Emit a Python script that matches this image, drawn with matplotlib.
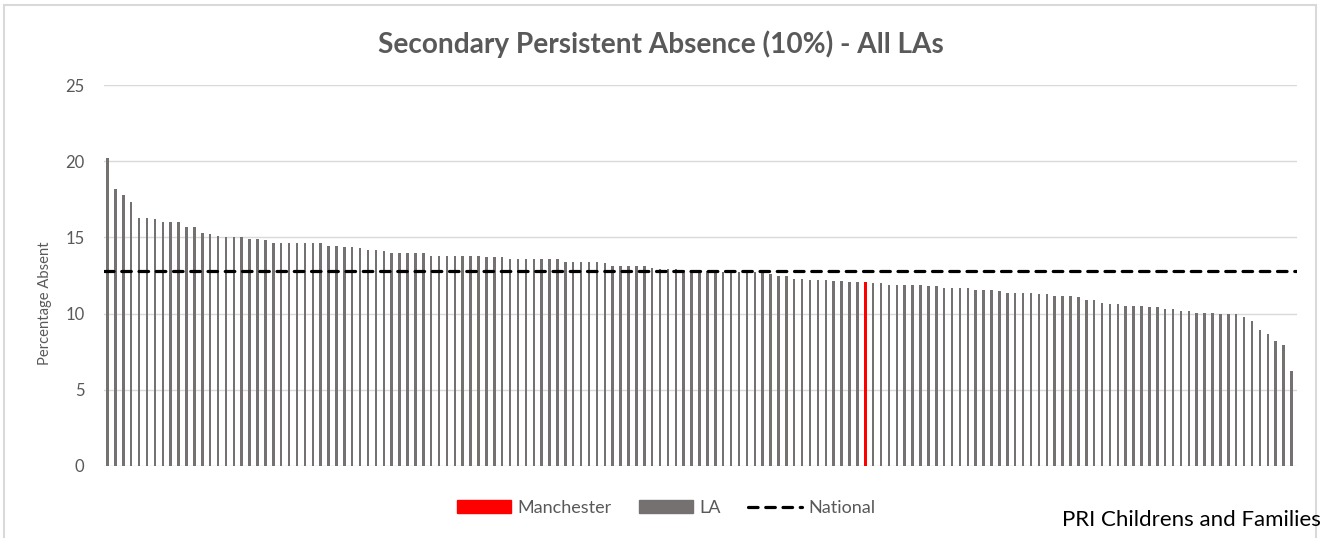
import numpy as np
from matplotlib import pyplot as plt
from matplotlib.patches import Patch, Rectangle
from matplotlib.lines import Line2D

# LA values, sorted high to low
la_values = [
    20.2, 18.2, 17.8, 17.3, 16.3, 16.3, 16.2, 16.0, 16.0, 16.0,
    15.7, 15.7, 15.3, 15.2, 15.1, 15.0, 15.0, 15.0, 14.9, 14.9,
    14.8, 14.6, 14.6, 14.6, 14.6,
    14.6, 14.6, 14.6, 14.45, 14.45, 14.4, 14.4, 14.3, 14.2, 14.2,
    14.1, 14.0, 14.0, 14.0, 14.0, 14.0, 13.8, 13.8, 13.75, 13.75,
    13.75, 13.75, 13.75,
    13.7, 13.7, 13.7, 13.6, 13.6, 13.6, 13.55, 13.55, 13.55, 13.55,
    13.4, 13.4, 13.4, 13.4, 13.4, 13.35, 13.15, 13.15, 13.15, 13.15,
    13.1, 13.0, 12.9, 12.9,
    12.9, 12.85, 12.85, 12.8, 12.8, 12.8, 12.75, 12.75, 12.7, 12.7,
    12.7, 12.65, 12.6,
    12.5, 12.5, 12.3, 12.3, 12.2, 12.2, 12.2, 12.15, 12.15, 12.1, 12.1,
    12.1,
    12.0, 12.0, 11.9, 11.9, 11.9, 11.9, 11.9, 11.8, 11.8, 11.7,
    11.7, 11.7, 11.7, 11.55, 11.55, 11.55, 11.5, 11.35, 11.35, 11.35,
    11.35, 11.3, 11.3, 11.15, 11.15, 11.15, 11.1,
    10.9, 10.9, 10.7, 10.6, 10.6, 10.5, 10.5, 10.5, 10.45, 10.45,
    10.3, 10.3, 10.2, 10.2, 10.05, 10.05, 10.05, 10.0, 10.0, 10.0,
    9.8, 9.5, 8.9, 8.65, 8.2, 7.95, 6.25,
]
manchester_pos = 96
national = 12.8
y_ticks = [0, 5, 10, 15, 20, 25]

W, H = 1323, 538
plt.rcParams['font.family'] = ['Lato', 'DejaVu Sans']
fig = plt.figure(figsize=(W / 100, H / 100), dpi=100)

# chart area border
fig.patches.append(Rectangle((4 / W, -0.05), 1312 / W, 1.05 - 5 / H,
                             transform=fig.transFigure, fill=False,
                             edgecolor='#d9d9d9', linewidth=1.5))

ax = fig.add_axes([104 / W, 1 - 466 / H, (1297 - 104) / W, (466 - 85) / H])

x = np.arange(len(la_values))
colors = ['#767171'] * len(la_values)
colors[manchester_pos] = '#ff0000'
ax.bar(x, la_values, width=0.32, color=colors, zorder=2)
dash = (0, (3.0, 2.4))
ax.axhline(national, color='black', linewidth=2.3, linestyle=dash,
           dash_capstyle='round', zorder=3)

ax.set_xlim(-0.45, len(la_values) - 0.3)
ax.set_ylim(0, 25)
ax.set_yticks(y_ticks)
ax.set_xticks([])
ax.tick_params(axis='y', length=0, pad=14, labelsize=12, labelcolor='#595959')
ax.grid(axis='y', color='#d9d9d9', linewidth=1, zorder=0)
for s in ax.spines.values():
    s.set_visible(False)

fig.text(661 / W, 1 - 44 / H, "Secondary Persistent Absence (10%) - All LAs",
         ha='center', va='center', fontsize=20.2, fontweight='bold', color='#595959')
fig.text(45 / W, 1 - 303 / H, "Percentage Absent", rotation=90,
         ha='center', va='center', fontsize=10.6, color='#595959')

handles = [Patch(color='#ff0000'), Patch(color='#767171'),
           Line2D([], [], color='black', linewidth=2.3, linestyle=dash,
                  dash_capstyle='round')]
fig.legend(handles, ['Manchester', 'LA', 'National'], ncol=3,
           loc='center', bbox_to_anchor=(666 / W, 1 - 508 / H),
           frameon=False, fontsize=13, labelcolor='#595959',
           handlelength=3.0, handleheight=0.7, handletextpad=0.35,
           columnspacing=1.5)

fig.text(1321 / W, 1 - 520 / H, "PRI Childrens and Families",
         ha='right', va='center', fontsize=16, color='black')

plt.savefig("out.png", dpi=100)
